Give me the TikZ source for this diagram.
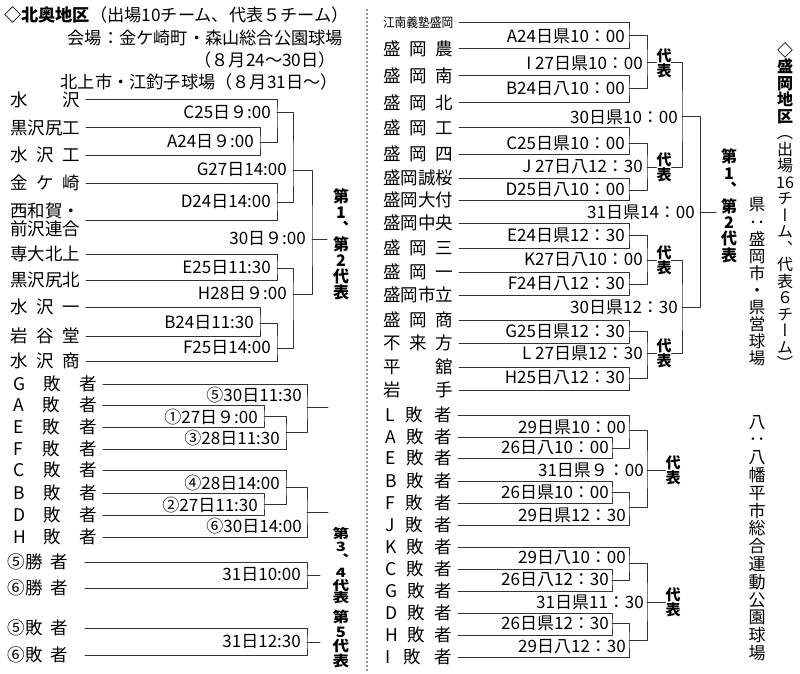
\documentclass[tikz,border=0pt]{standalone}
\usepackage{fontspec}
\setmainfont{Noto Sans CJK JP}
\newfontfamily\vfont[RawFeature=+vert]{Noto Sans CJK JP}
\usetikzlibrary{positioning}
\newcommand\fsz[1]{\fontsize{#1}{#1}\selectfont}
\newcommand\vsz[2]{\vfont\fontsize{#1}{#2}\selectfont\lineskiplimit=-100pt\lineskip=0pt}
\newcommand\tname[2][4em]{\makebox[#1][s]{#2}}
\newcommand\sq[2][1.3]{\scalebox{#1}[1]{#2}}
\begin{document}
\begin{tikzpicture}[x=1pt, y=-1pt, line join=round, line cap=round,
		wire/.style={draw=black!80, line width=1pt},
		dots/.style={draw=black!85, line width=1.8pt, dash pattern=on 0pt off 4pt},
		head/.style={inner sep=0pt, font=\fsz{17.2}},
		team/.style={anchor=west, inner sep=0pt, outer xsep=6pt, font=\fsz{17.5}},
		lab/.style={anchor=east, inner sep=0pt, font=\fsz{17}},
		vtxt/.style={align=center, inner sep=0pt},
		rep/.style={align=center, inner sep=0pt, font=\vsz{15}{15}\bfseries}]
	\useasboundingbox (0,0) rectangle (800,674);
	% 北奥地区
	\node[head, anchor=west] (kTitle) at (4,15) {\bfseries ◇北奥地区\mdseries（出場10チーム、代表５チーム）};
	\node[head, anchor=east] (kVenue) at (343,38) {会場：金ケ崎町・森山総合公園球場};
	\node[head, anchor=east] (kDates) at (336,60) {（８月24～30日）};
	\node[head, anchor=east] (kVenue2) at (338,82) {北上市・江釣子球場（８月31日～）};
	\node[team] (k1) at (4,100) {\tname{水\hfil 沢}};
	\node[team] (k2) at (4,128) {黒沢尻工};
	\node[team] (k3) at (4,155) {\tname{水\hfil 沢\hfil 工}};
	\node[team] (k4) at (4,183) {\tname{金\hfil ケ\hfil 崎}};
	\node[team, align=left, font=\fontsize{17.5}{17.5}\selectfont] (k5) at (4,220) {西和賀・\\前沢連合};
	\node[team] (k6) at (4,254) {専大北上};
	\node[team] (k7) at (4,280) {黒沢尻北};
	\node[team] (k8) at (4,307) {\tname{水\hfil 沢\hfil 一}};
	\node[team] (k9) at (4,336) {\tname{岩\hfil 谷\hfil 堂}};
	\node[team] (k10) at (4,361) {\tname{水\hfil 沢\hfil 商}};
	\coordinate (kA) at (260,142);
	\coordinate (kC) at (277,113);
	\coordinate (kD) at (277,202);
	\coordinate (kG) at (293,170);
	\coordinate (kE) at (277,268);
	\coordinate (kB) at (260,323);
	\coordinate (kF) at (277,348);
	\coordinate (kH) at (293,294);
	\coordinate (kW) at (312,239);
	\coordinate (kWend) at (327,239);
	\draw[wire] (k2.east) -| (kA) |- (k3.east);
	\draw[wire] (k1.east) -| (kC) |- (kA);
	\draw[wire] (k4.east) -| (kD) |- (k5.east);
	\draw[wire] (kC) -| (kG) |- (kD);
	\draw[wire] (k6.east) -| (kE) |- (k7.east);
	\draw[wire] (k8.east) -| (kB) |- (k9.east);
	\draw[wire] (kB) -| (kF) |- (k10.east);
	\draw[wire] (kE) -| (kH) |- (kF);
	\draw[wire] (kG) -| (kW) |- (kH);
	\draw[wire] (kW) -- (kWend);
	\node[lab, left=6pt of kA] (lA) {A24日９:00};
	\node[lab, left=6pt of kC] (lC) {C25日９:00};
	\node[lab, left=6pt of kD] (lD) {D24日14:00};
	\node[lab, left=6pt of kG] (lG) {G27日14:00};
	\node[lab, left=6pt of kE] (lE) {E25日11:30};
	\node[lab, left=6pt of kB] (lB) {B24日11:30};
	\node[lab, left=6pt of kF] (lF) {F25日14:00};
	\node[lab, left=6pt of kH] (lH) {H28日９:00};
	\node[lab, left=6pt of kW] (lW) {30日９:00};
	\node[vtxt, font=\vsz{16}{16}\bfseries] (kRep1) at (341,244) {第\\1\\、\\第\\2\\代\\表};
	% 敗者
	\node[team] (c1) at (7,384) {\tname[84pt]{G\hfil 敗\hfil 者}};
	\node[team] (c2) at (7,405) {\tname[84pt]{A\hfil 敗\hfil 者}};
	\node[team] (c3) at (7,427) {\tname[84pt]{E\hfil 敗\hfil 者}};
	\node[team] (c4) at (7,449) {\tname[84pt]{F\hfil 敗\hfil 者}};
	\node[team] (c5) at (7,470) {\tname[84pt]{C\hfil 敗\hfil 者}};
	\node[team] (c6) at (7,493) {\tname[84pt]{B\hfil 敗\hfil 者}};
	\node[team] (c7) at (7,515) {\tname[84pt]{D\hfil 敗\hfil 者}};
	\node[team] (c8) at (7,537) {\tname[84pt]{H\hfil 敗\hfil 者}};
	\coordinate (cO1) at (264,416);
	\coordinate (cO3) at (286,432);
	\coordinate (cO5) at (307,407);
	\coordinate (cO2) at (264,504);
	\coordinate (cO4) at (286,487);
	\coordinate (cO6) at (307,512);
	\coordinate (cE5) at (328,407);
	\coordinate (cE6) at (328,512);
	\draw[wire] (c2.east) -| (cO1) |- (c3.east);
	\draw[wire] (cO1) -| (cO3) |- (c4.east);
	\draw[wire] (c1.east) -| (cO5) |- (cO3);
	\draw[wire] (cO5) -- (cE5);
	\draw[wire] (c6.east) -| (cO2) |- (c7.east);
	\draw[wire] (c5.east) -| (cO4) |- (cO2);
	\draw[wire] (cO4) -| (cO6) |- (c8.east);
	\draw[wire] (cO6) -- (cE6);
	\node[lab] (l1) at (258,417) {①27日９:00};
	\node[lab] (l3) at (280,438) {③28日11:30};
	\node[lab] (l5) at (302,395) {⑤30日11:30};
	\node[lab] (l2) at (258,505) {②27日11:30};
	\node[lab] (l4) at (280,483) {④28日14:00};
	\node[lab] (l6) at (302,526) {⑥30日14:00};
	\node[team, outer xsep=17pt] (w5) at (-9,562) {\tname[60pt]{⑤勝\hfil 者}};
	\node[team, outer xsep=17pt] (w6) at (-9,588) {\tname[60pt]{⑥勝\hfil 者}};
	\node[team, outer xsep=17pt] (x5) at (-9,628) {\tname[60pt]{⑤敗\hfil 者}};
	\node[team, outer xsep=17pt] (x6) at (-9,655) {\tname[60pt]{⑥敗\hfil 者}};
	\coordinate (cF1) at (307,575);
	\coordinate (cF2) at (307,642);
	\coordinate (cFe1) at (320,575);
	\coordinate (cFe2) at (320,642);
	\draw[wire] (w5.east) -| (cF1) |- (w6.east);
	\draw[wire] (cF1) -- (cFe1);
	\draw[wire] (x5.east) -| (cF2) |- (x6.east);
	\draw[wire] (cF2) -- (cFe2);
	\node[lab, left=6pt of cF1] (lF1) {31日10:00};
	\node[lab, left=6pt of cF2] (lF2) {31日12:30};
	\node[vtxt, font=\vsz{12.8}{12.8}\bfseries] (kRep2) at (341,566) {\sq{第}\\\sq{3}\\\sq{、}\\\sq{4}\\\sq{代}\\\sq{表}};
	\node[vtxt, font=\vsz{14.4}{14.5}\bfseries] (kRep3) at (341,639) {\sq[1.15]{第}\\\sq[1.15]{5}\\\sq[1.15]{代}\\\sq[1.15]{表}};
	\draw[dots] (367,10) -- (367,672);
	% 盛岡地区
	\node[team] (m1) at (377,23) {\scalebox{0.9}[1]{\fsz{13}江南義塾盛岡}};
	\node[team] (m2) at (377,49) {\tname{盛\hfil 岡\hfil 農}};
	\node[team] (m3) at (377,76) {\tname{盛\hfil 岡\hfil 南}};
	\node[team] (m4) at (377,103) {\tname{盛\hfil 岡\hfil 北}};
	\node[team] (m5) at (377,128) {\tname{盛\hfil 岡\hfil 工}};
	\node[team] (m6) at (377,154) {\tname{盛\hfil 岡\hfil 四}};
	\node[team] (m7) at (377,178) {盛岡誠桜};
	\node[team] (m8) at (377,200) {盛岡大付};
	\node[team] (m9) at (377,223) {盛岡中央};
	\node[team] (m10) at (377,248) {\tname{盛\hfil 岡\hfil 三}};
	\node[team] (m11) at (377,272) {\tname{盛\hfil 岡\hfil 一}};
	\node[team] (m12) at (377,295) {盛岡市立};
	\node[team] (m13) at (377,320) {\tname{盛\hfil 岡\hfil 商}};
	\node[team] (m14) at (377,343) {\tname{不\hfil 来\hfil 方}};
	\node[team] (m15) at (377,367) {\tname{平\hfil 舘}};
	\node[team] (m16) at (377,390) {\tname{岩\hfil 手}};
	\coordinate (mA) at (629,36);
	\coordinate (mB) at (629,89);
	\coordinate (mI) at (647,63);
	\coordinate (mC) at (629,143);
	\coordinate (mD) at (629,190);
	\coordinate (mJ) at (647,167);
	\coordinate (mE) at (629,235);
	\coordinate (mF) at (629,284);
	\coordinate (mK) at (647,260);
	\coordinate (mG) at (629,331);
	\coordinate (mH) at (629,378);
	\coordinate (mL) at (647,353);
	\coordinate (mS1) at (682,117);
	\coordinate (mS2) at (682,307);
	\coordinate (mW) at (700,212);
	\coordinate (mWend) at (716,212);
	\node[rep] (r1) at (664,63) {代\\表};
	\node[rep] (r2) at (664,167) {代\\表};
	\node[rep] (r3) at (664,260) {代\\表};
	\node[rep] (r4) at (664,353) {代\\表};
	\draw[wire] (m1.east) -| (mA) |- (m2.east);
	\draw[wire] (m3.east) -| (mB) |- (m4.east);
	\draw[wire] (mA) -| (mI) |- (mB);
	\draw[wire] (mI) -- (r1.west);
	\draw[wire] (m5.east) -| (mC) |- (m6.east);
	\draw[wire] (m7.east) -| (mD) |- (m8.east);
	\draw[wire] (mC) -| (mJ) |- (mD);
	\draw[wire] (mJ) -- (r2.west);
	\draw[wire] (m9.east) -| (mE) |- (m10.east);
	\draw[wire] (m11.east) -| (mF) |- (m12.east);
	\draw[wire] (mE) -| (mK) |- (mF);
	\draw[wire] (mK) -- (r3.west);
	\draw[wire] (m13.east) -| (mG) |- (m14.east);
	\draw[wire] (m15.east) -| (mH) |- (m16.east);
	\draw[wire] (mG) -| (mL) |- (mH);
	\draw[wire] (mL) -- (r4.west);
	\draw[wire] (r1.east) -| (mS1) |- (r2.east);
	\draw[wire] (r3.east) -| (mS2) |- (r4.east);
	\draw[wire] (mS1) -| (mW) |- (mS2);
	\draw[wire] (mW) -- (mWend);
	\node[lab, left=4pt of mA] (nA) {A24日県10：00};
	\node[lab, left=4pt of mB] (nB) {B24日八10：00};
	\node[lab, left=4pt of mI] (nI) {I 27日県10：00};
	\node[lab, left=4pt of mC] (nC) {C25日県10：00};
	\node[lab, left=4pt of mD] (nD) {D25日八10：00};
	\node[lab, left=4pt of mJ] (nJ) {J 27日八12：30};
	\node[lab, left=4pt of mE] (nE) {E24日県12：30};
	\node[lab, left=4pt of mF] (nF) {F24日八12：30};
	\node[lab, left=4pt of mK] (nK) {K27日八10：00};
	\node[lab, left=4pt of mG] (nG) {G25日県12：30};
	\node[lab, left=4pt of mH] (nH) {H25日八12：30};
	\node[lab, left=4pt of mL] (nL) {L 27日県12：30};
	\node[lab, left=4pt of mS1] (nS1) {30日県10：00};
	\node[lab, left=4pt of mS2] (nS2) {30日県12：30};
	\node[lab, left=5pt of mW] (nW) {31日県14：00};
	\node[vtxt, font=\vsz{16}{16.4}\bfseries] (mRep1) at (729,206) {第\\1\\、\\第\\2\\代\\表};
	% 盛岡 敗者
	\node[team] (s1) at (379,415) {\tname[67pt]{L\hfil 敗\hfil 者}};
	\node[team] (s2) at (379,437) {\tname[67pt]{A\hfil 敗\hfil 者}};
	\node[team] (s3) at (379,458) {\tname[67pt]{E\hfil 敗\hfil 者}};
	\node[team] (s4) at (379,481) {\tname[67pt]{B\hfil 敗\hfil 者}};
	\node[team] (s5) at (379,503) {\tname[67pt]{F\hfil 敗\hfil 者}};
	\node[team] (s6) at (379,525) {\tname[67pt]{J\hfil 敗\hfil 者}};
	\node[team] (s7) at (379,547) {\tname[67pt]{K\hfil 敗\hfil 者}};
	\node[team] (s8) at (379,569) {\tname[67pt]{C\hfil 敗\hfil 者}};
	\node[team] (s9) at (379,591) {\tname[67pt]{G\hfil 敗\hfil 者}};
	\node[team] (s10) at (379,613) {\tname[67pt]{D\hfil 敗\hfil 者}};
	\node[team] (s11) at (379,635) {\tname[67pt]{H\hfil 敗\hfil 者}};
	\node[team] (s12) at (379,657) {\tname[67pt]{I\hfil 敗\hfil 者}};
	\coordinate (sA) at (612,448);
	\coordinate (sB) at (629,430);
	\coordinate (sC) at (612,492);
	\coordinate (sD) at (629,507);
	\coordinate (sE) at (647,470);
	\coordinate (sF) at (612,580);
	\coordinate (sG) at (629,563);
	\coordinate (sH) at (612,623);
	\coordinate (sI) at (629,640);
	\coordinate (sJ) at (647,602);
	\node[rep] (r5) at (673,470) {代\\表};
	\node[rep] (r6) at (673,602) {代\\表};
	\draw[wire] (s2.east) -| (sA) |- (s3.east);
	\draw[wire] (s1.east) -| (sB) |- (sA);
	\draw[wire] (s4.east) -| (sC) |- (s5.east);
	\draw[wire] (sC) -| (sD) |- (s6.east);
	\draw[wire] (sB) -| (sE) |- (sD);
	\draw[wire] (sE) -- (r5.west);
	\draw[wire] (s8.east) -| (sF) |- (s9.east);
	\draw[wire] (s7.east) -| (sG) |- (sF);
	\draw[wire] (s10.east) -| (sH) |- (s11.east);
	\draw[wire] (sH) -| (sI) |- (s12.east);
	\draw[wire] (sG) -| (sJ) |- (sI);
	\draw[wire] (sJ) -- (r6.west);
	\node[lab] (o1) at (609,448) {26日八10：00};
	\node[lab] (o2) at (626,427) {29日県10：00};
	\node[lab] (o3) at (609,492) {26日県10：00};
	\node[lab] (o4) at (626,515) {29日県12：30};
	\node[lab, left=3pt of sE] (o5) {31日県９：00};
	\node[lab] (o6) at (609,580) {26日八12：30};
	\node[lab] (o7) at (626,558) {29日八10：00};
	\node[lab] (o8) at (609,623) {26日県12：30};
	\node[lab] (o9) at (626,647) {29日八12：30};
	\node[lab, left=3pt of sJ] (o10) {31日県11：30};
	% 見出し（縦）
	\node[vtxt, font=\vsz{16}{16.5}] (mTitle) at (785,206) {\textbf{◇}\\\textbf{盛}\\\textbf{岡}\\\textbf{地}\\\textbf{区}\\（\\出\\場\\16\\チ\\ー\\ム\\、\\代\\表\\６\\チ\\ー\\ム\\）};
	\node[vtxt, font=\vsz{16.5}{17.1}] (mVenue1) at (757,282) {県\\：\\盛\\岡\\市\\・\\県\\営\\球\\場};
	\node[vtxt, font=\vsz{17}{17.8}] (mVenue2) at (757,538) {八\\：\\八\\幡\\平\\市\\総\\合\\運\\動\\公\\園\\球\\場};
\end{tikzpicture}
\end{document}
